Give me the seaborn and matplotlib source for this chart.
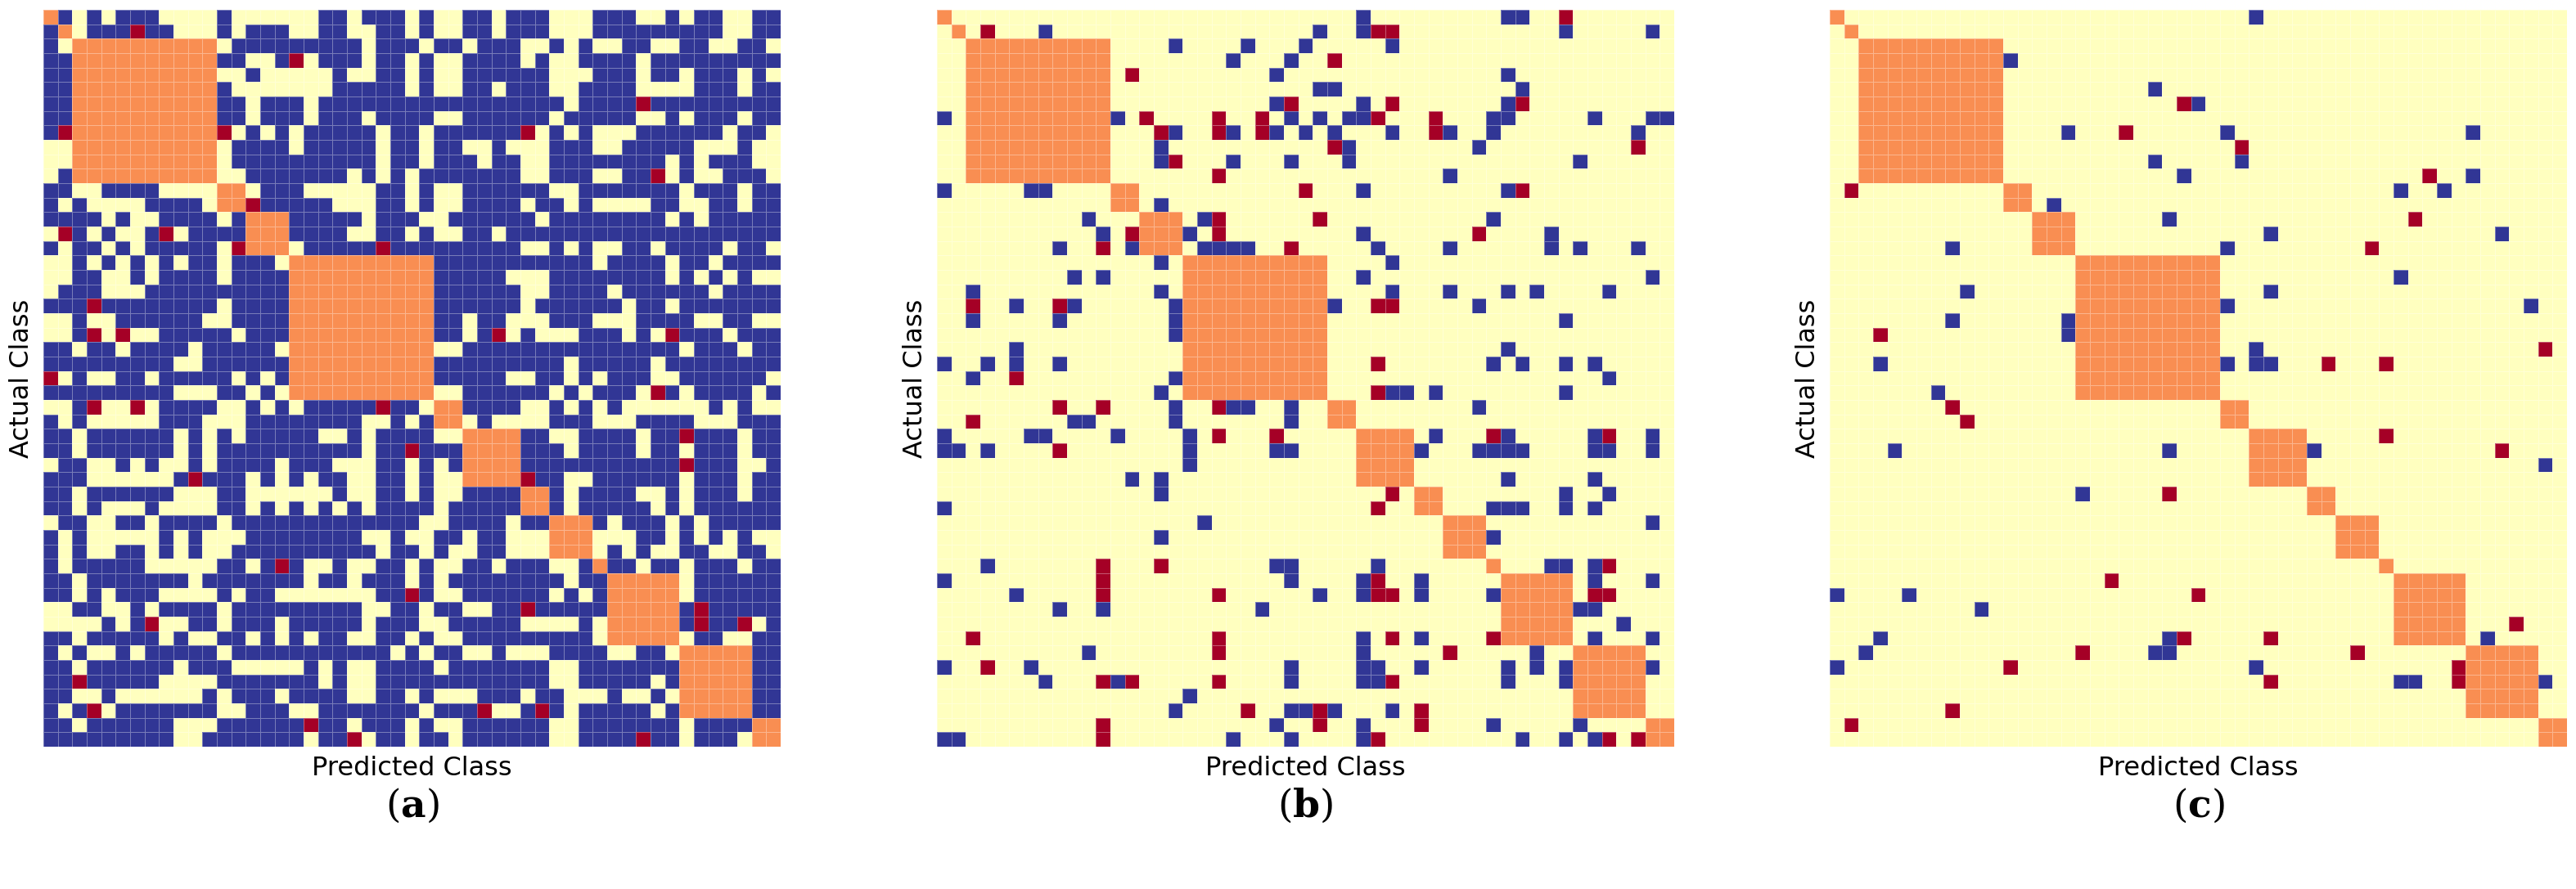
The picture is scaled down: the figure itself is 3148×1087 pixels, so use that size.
import numpy as np
import pandas as pd
import matplotlib
matplotlib.use("Agg")
import matplotlib.pyplot as plt
import seaborn as sns
from matplotlib.colors import ListedColormap

# class block sizes along the diagonal (51 classes)
class_sizes = [1, 1, 10, 2, 3, 10, 2, 4, 2, 3, 1, 5, 5, 2]

# panel (a): '.' = none, 'x' = blue, 'r' = red, 'o' = same-block (diagonal)
rows_a = [
    "ox.x.xxx....x......xx.xxx." + "x..xx.xxx...xxx..x.xx..xx",
    "xo.xxxrxx...x.xxx..xx..xx." + "x..xx.xxx...xxxxxxxxx..xx",
    "x.oooooooooo.xxxxxxxxx.xxx" + ".xx.xxx..x.x..xx..xx..xx.",
    "xxooooooooooxx..xr.xxx.xx." + "x..xxxx.x..xxxx.xxxxxxxxx",
    "xxoooooooooo..x.....x..xx." + "x..xxxxxx...xxx.xx.xxx.x.",
    "xxoooooooooox.......xxxxx." + "x..xx.xxx..xxxx....xxx.xx",
    "xxooooooooooxx.xxx.xxxxxxx" + "xxxxxxxxxx.xxxxrxxxxxxxxx",
    "xxooooooooooxx.xxx.xxx.xxx" + "x..xxxxxx.xxxxx..x.xxx.xx",
    "xroooooooooor.x.x.xxxxx.xx" + ".xxxxxxr.x.x...xxxxxx.xx.",
    "..oooooooooo.xxxx.xxxxx.xx" + ".xx..x...xxx..xxxxx...x..",
    "..oooooooooo.xxxxxxxxxx.xx" + ".xxx.xx..xxxxxxxx.x.xxx..",
    ".xoooooooooo..xxxxxxx.x.x." + "xxxxxxx..xxx..xxr.x..xxx.",
    "xx..xxxx....oo.xxx.....xx." + "x..xxxxxx..xxxxxxx.xxx.xx",
    "x.x....xxxx.oorxxxxx...xx." + "x..xxxx.xx.x....xx..xx.xx",
    "xxxx.x..xxxx.xoooxxxxx.xxx" + "..xxxxxx.xxxxxxxx.x.xxxxx",
    ".rx.x..xr.xxxxoooxxxx..xx." + "x..xx.xxxxxxxxxxxxxxxxxxx",
    "x.xx.x.xxxxx.rooo.xxxxxrxx" + "xxxxxxx..x.x..xx.xxxx.xx.",
    "..x.x.x.x.xx.xxx.ooooooooo" + "oxxxxxxxxxxx.xxxx.xx.xxxx",
    "..xx..x.xxxx.xxxxooooooooo" + "oxxxxx...xxxxxxxx.x.x.x..",
    ".xxx...xxxxxxxxxxooooooooo" + "oxxxxxx..xxxx.xxxxxx.xxxx",
    "xxxrxxxxxxxx.xxxxooooooooo" + "oxxxxxx.xxxxxx.xx.xxxxxxx",
    "..x..xxxxxx..xxxxooooooooo" + "oxx.xx...xxx...xxxx..xx..",
    "..xr.r..xxxxx.xxxooooooooo" + "oxx.xr.x...xxx.x.rxxx.xxx",
    "xx.xx.xxxx.xxxxx.ooooooooo" + "o..xxxxxxxxxxxxxxx.xxx.xx",
    "xxxxxxxxx..xxxxxxooooooooo" + "oxxxxxxxxx.xxxxx.xxxxxxxx",
    "r.x..xx.xxxxx.x.xooooooooo" + "oxxxxx..xx.x.xxx..xxxxxx.",
    "xxxxxxxxx...xx.x.ooooooooo" + "o..xxxxxx.x.xxx.rx.xxxx.x",
    "..xr..r.xxxx..x.x.xxxxxrxx" + ".ooxxxx..x.x.x......x.x..",
    "x.x.....xxx...xxxxxxxx..x." + "xoo.x....xxx...xxxx...xxx",
    "xx.xxxxxx.x.x.xxxxx..x.xxx" + "x..ooooxx..xxxx.xxrxxx.xx",
    "xx.xxxxxx.x.xxxxxxxxxx.xxr" + "xxxooooxxx.xxxx.xx.xxx.xx",
    ".xx..x.x..x.xxxx.xxx...xx." + "x.xooooxxxxxxxxxxxrxxx..x",
    "xxx......xrxxx.x.x.xx..xx." + "x..oooorxx..xxxxxx.xxx.xx",
    "xx.xxxxxx...xx......x..xx." + "x..xxxxoox.xxxx..x.xxx.xx",
    "xx.x...x....xx.x.x.x.x.xxx" + "x.xxxxxoox.xxxxx.x.xxxxxx",
    ".xx..xx.xxxx.xxxxxxxxxxxxx" + "..xxxx.xxooox.xxx.x.xxxxx",
    "x.x.....x.x...xxxxxxxx..x." + ".xx.xx...ooo...xx.x.x.x..",
    "x.x..xx.x.x..xxxxxxxxxx.xx" + ".x..xx...ooo.x.x..xx..xx.",
    "x.xxxxx.....xx.xrx..x..xx." + "x..xx.xxx..xoxx.xx.xxx.xx",
    "xx.xxxxxxx.xxxxxxx.xx.xxx." + "x.xxxxxxxx.xxooooo.xxxxxx",
    "xx.x.xxx....x.xx.......xxr" + "x..xxxxxx.x.xooooo.xxxxxx",
    "..xx..x.xxxx.xxxxxxxxx..xx" + ".xx..xxrxxxxxoooooxrxxxxx",
    "....x.xr..xx.xxx.xxxxx.xxx" + "..xxxxx....x.oooooxrxxr.x",
    "xx.xxxxx.x..xx.x.x.xx..xx." + "x..xxxxxxxxx.ooooo.xx..xx",
    "x.x..x.xxxxx.xxxxxxxxxxx.x" + ".xx..x...xxxx..xx.oooooxx",
    "xx.xxxxxx.xxx.....x.x..xxx" + "x.xxxxxxx..xxxxxxxoooooxx",
    "xxrxxxxx....xxxxxxx.x..xxx" + "xxxxxxxxx..xxxxx.xoooooxx",
    "xx..x......x.xxx.xxxx..xx." + "x...xxx.xx...x..x.oooooxx",
    "x.xr.xxxxxxx..xxx..xxxxxxx" + ".xxxr..xrx.xxxxx.xoooooxx",
    "xx.xxxxxx...xxxxxxrxx.xxx." + "x..xxxxxx..xxxxxxx.xxxxoo",
    "xxxxxxxxx..xxxxxxx.xxr.xx." + "xx.xxxxxx..xxxxrxx.xxx.oo",
]

# panel (b): off-diagonal cells (row, col)
blue_b = [
    (0, 29), (0, 39), (0, 40), (1, 7), (1, 26), (1, 29), (1, 43), (1, 49),
    (2, 16), (2, 21), (2, 25), (2, 31), (3, 20), (3, 24), (4, 23), (4, 39),
    (5, 26), (5, 27), (5, 40), (6, 23), (6, 29), (6, 39),
    (7, 0), (7, 12), (7, 24), (7, 26), (7, 28), (7, 29), (7, 38), (7, 39), (7, 45), (7, 49), (7, 50),
    (8, 16), (8, 20), (8, 23), (8, 25), (8, 27), (8, 31), (8, 35), (8, 38), (8, 48),
    (9, 15), (9, 28), (9, 37), (10, 15), (10, 20), (10, 24), (10, 28), (10, 44), (11, 35),
    (12, 0), (12, 6), (12, 7), (12, 29), (12, 39), (13, 15), (14, 10), (14, 18), (14, 38),
    (15, 11), (15, 17), (15, 29), (15, 42),
    (16, 8), (16, 13), (16, 18), (16, 19), (16, 20), (16, 21), (16, 30), (16, 35), (16, 42), (16, 44), (16, 48),
    (17, 15), (17, 31), (18, 9), (18, 11), (18, 29), (18, 49),
    (19, 2), (19, 15), (19, 31), (19, 35), (19, 39), (19, 41), (19, 46),
    (20, 5), (20, 9), (20, 16), (20, 27), (20, 37), (21, 2), (21, 8), (21, 16), (21, 43),
    (22, 16), (23, 5), (23, 39),
    (24, 0), (24, 3), (24, 5), (24, 8), (24, 38), (24, 40), (24, 43), (24, 45),
    (25, 2), (25, 16), (25, 46), (26, 15), (26, 31), (26, 32), (26, 34), (26, 43),
    (27, 16), (27, 20), (27, 21), (27, 24), (27, 37), (28, 9), (28, 10), (28, 16), (28, 24),
    (29, 0), (29, 6), (29, 7), (29, 12), (29, 17), (29, 34), (29, 39), (29, 45), (29, 49),
    (30, 0), (30, 1), (30, 3), (30, 17), (30, 23), (30, 24), (30, 33), (30, 37), (30, 38), (30, 39),
    (30, 40), (30, 45), (30, 46), (30, 49),
    (31, 17), (32, 13), (32, 15), (32, 39), (32, 45), (33, 15), (33, 43), (33, 46),
    (34, 0), (34, 38), (34, 39), (34, 40), (34, 43), (34, 45), (35, 18), (35, 49), (36, 15), (36, 38),
    (38, 3), (38, 23), (38, 24), (38, 30), (38, 42), (38, 43), (38, 45),
    (39, 0), (39, 24), (39, 29), (39, 33), (39, 45), (39, 49),
    (40, 5), (40, 26), (40, 29), (40, 33), (40, 38), (41, 8), (41, 11), (41, 22), (41, 44), (41, 45),
    (42, 47), (43, 29), (43, 33), (43, 45), (43, 49), (44, 10), (44, 29), (44, 41),
    (45, 0), (45, 6), (45, 24), (45, 29), (45, 30), (45, 33), (45, 39), (45, 41), (45, 43), (45, 49),
    (46, 7), (46, 12), (46, 24), (46, 29), (46, 30), (46, 39), (46, 43),
    (47, 17), (48, 16), (48, 24), (48, 25), (48, 27), (48, 31),
    (49, 23), (49, 29), (49, 38), (49, 44),
    (50, 0), (50, 1), (50, 20), (50, 24), (50, 29), (50, 40), (50, 43), (50, 45),
]
red_b = [
    (0, 43), (1, 3), (1, 30), (1, 31), (3, 27), (4, 13), (6, 24), (6, 31), (6, 40),
    (7, 14), (7, 19), (7, 22), (7, 30), (7, 34), (8, 15), (8, 19), (8, 22), (8, 34),
    (9, 27), (9, 48), (10, 16), (11, 19), (12, 25), (12, 40), (14, 19), (14, 26),
    (15, 13), (15, 19), (15, 37), (16, 11), (16, 24), (20, 2), (20, 8), (20, 30), (20, 31),
    (24, 30), (25, 5), (26, 30), (27, 8), (27, 11), (27, 19), (28, 2),
    (29, 19), (29, 23), (29, 38), (29, 46), (30, 8), (33, 31), (34, 30),
    (38, 11), (38, 15), (38, 46), (39, 11), (39, 30), (40, 11), (40, 19), (40, 30), (40, 31),
    (40, 45), (40, 46), (43, 2), (43, 19), (43, 31), (43, 38), (44, 19), (44, 35),
    (45, 3), (46, 11), (46, 13), (46, 19), (46, 31), (48, 21), (48, 26), (48, 33),
    (49, 11), (49, 26), (49, 33), (50, 11), (50, 30), (50, 46), (50, 48),
]

# panel (c): off-diagonal cells (row, col)
blue_c = [
    (0, 29), (3, 12), (5, 22), (6, 25), (8, 16), (8, 27), (8, 44), (10, 22), (10, 28),
    (11, 24), (11, 44), (12, 39), (12, 42), (13, 15), (14, 23), (15, 30), (15, 46),
    (16, 8), (16, 27), (18, 39), (19, 9), (19, 30), (20, 27), (20, 48), (21, 8), (21, 16),
    (22, 16), (23, 29), (24, 3), (24, 27), (24, 29), (24, 30), (26, 7), (30, 4), (30, 23),
    (30, 33), (31, 49), (33, 17), (40, 0), (40, 5), (41, 10), (43, 3), (43, 23), (43, 45),
    (44, 2), (44, 22), (44, 23), (45, 0), (45, 29), (46, 39), (46, 40), (46, 49),
]
red_c = [
    (6, 24), (8, 20), (9, 28), (11, 41), (12, 1), (14, 40), (16, 37), (22, 3), (23, 49),
    (24, 34), (24, 38), (27, 8), (28, 9), (29, 38), (30, 46), (33, 23), (39, 19), (40, 25),
    (42, 47), (43, 24), (43, 30), (44, 17), (44, 36), (45, 12), (45, 43), (46, 43), (46, 30),
    (48, 8), (49, 1),
]

panel_labels = ["a", "b", "c"]

n = sum(class_sizes)
block_of = np.repeat(np.arange(len(class_sizes)), class_sizes)
same_block = block_of[:, None] == block_of[None, :]

# codes: 0 none, 1 blue, 2 red, 3 diagonal block
code_map = {".": 0, "x": 1, "r": 2, "o": 0}
mat_a = np.array([[code_map[ch] for ch in row] for row in rows_a])


def sparse_matrix(blue, red):
    m = np.zeros((n, n), dtype=int)
    for r, c in blue:
        m[r, c] = 1
    for r, c in red:
        m[r, c] = 2
    return m


mats = [mat_a, sparse_matrix(blue_b, red_b), sparse_matrix(blue_c, red_c)]
for m in mats:
    m[same_block] = 3

cmap = ListedColormap(["#FFFFBF", "#313695", "#A50026", "#F98E52"])

fig = plt.figure(figsize=(31.48, 10.87), dpi=100)
W, H = 3148, 1087
lefts = [53, 1145, 2236]
top, size = 12, 901
for m, left, lab in zip(mats, lefts, panel_labels):
    ax = fig.add_axes([left / W, 1 - (top + size) / H, size / W, size / H])
    sns.heatmap(pd.DataFrame(m), ax=ax, cmap=cmap, vmin=-0.5, vmax=3.5, cbar=False,
                linewidths=0.6, linecolor=(1, 1, 1, 0.35), square=False,
                xticklabels=False, yticklabels=False)
    ax.set_xlabel("Predicted Class", fontsize=23, labelpad=8)
    ax.set_ylabel("Actual Class", fontsize=23, labelpad=8)
    fig.text((left + size / 2) / W, 1 - 985 / H, r"$(\mathbf{%s})$" % lab,
             ha="center", va="center", fontsize=34,
             math_fontfamily="dejavuserif")

fig.savefig("out.png", dpi=100)
